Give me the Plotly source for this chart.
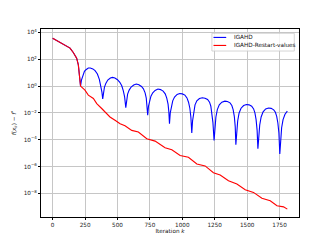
import numpy as np
import plotly.graph_objects as go

# ---------------- data ----------------
# IGAHD-Restart-values: iteration k and log10(f(x_k) - f*)
restart_k = [0, 56, 95, 134, 159, 185, 198, 208, 215,
             249, 275, 314, 340, 378, 404, 442, 481, 520, 558, 610, 661,
             726, 790, 867, 919, 983, 1047, 1112, 1176, 1240, 1292, 1356,
             1421, 1485, 1549, 1614, 1678, 1730, 1781, 1810]
restart_log10 = [3.57, 3.28, 3.08, 2.83, 2.50, 2.08, 1.58, 0.83, 0.0,
                 -0.30, -0.67, -0.92, -1.30, -1.67, -1.92, -2.30, -2.55, -2.80, -2.95, -3.30, -3.42,
                 -3.92, -4.10, -4.60, -4.75, -5.17, -5.30, -5.80, -5.95, -6.45, -6.62, -7.05,
                 -7.30, -7.72, -7.92, -8.35, -8.55, -8.92, -9.00, -9.17]

# IGAHD: iteration k and log10(f(x_k) - f*)
igahd_k = [0, 56, 95, 134, 159, 185, 198, 208, 215,
           222, 232, 245, 257, 275, 290, 310, 327, 345, 360, 372, 380, 386,
           392, 399, 410, 425, 445, 462, 480, 500, 518, 533, 545, 555, 564,
           570, 578, 590, 605, 625, 645, 665, 685, 700, 713, 722, 728, 733,
           739, 747, 758, 772, 790, 812, 832, 852, 868, 880, 890, 896, 901,
           907, 915, 926, 940, 960, 980, 1000, 1020, 1036, 1048, 1058, 1066, 1073,
           1079, 1087, 1098, 1112, 1132, 1155, 1175, 1195, 1210, 1220, 1229, 1236, 1245,
           1251, 1259, 1270, 1285, 1305, 1328, 1348, 1368, 1382, 1392, 1401, 1408, 1413,
           1419, 1427, 1438, 1453, 1473, 1495, 1515, 1535, 1550, 1560, 1569, 1577, 1583,
           1589, 1597, 1608, 1623, 1643, 1665, 1685, 1705, 1718, 1728, 1737, 1745, 1752,
           1758, 1766, 1777, 1792, 1810]
igahd_log10 = [3.57, 3.28, 3.08, 2.83, 2.50, 2.08, 1.58, 0.83, 0.0,
               0.45, 0.83, 1.10, 1.22, 1.35, 1.35, 1.28, 1.15, 0.90, 0.50, 0.0, -0.45, -0.95,
               -0.45, -0.10, 0.20, 0.45, 0.60, 0.65, 0.60, 0.48, 0.28, 0.02, -0.35, -0.80, -1.60,
               -0.95, -0.60, -0.30, -0.07, 0.08, 0.15, 0.10, -0.03, -0.20, -0.50, -0.90, -1.40, -2.17,
               -1.50, -1.10, -0.75, -0.50, -0.32, -0.22, -0.26, -0.37, -0.58, -0.90, -1.35, -1.90, -2.80,
               -2.00, -1.50, -1.10, -0.82, -0.62, -0.55, -0.58, -0.67, -0.88, -1.20, -1.65, -2.30, -3.50,
               -2.60, -1.90, -1.40, -1.10, -0.93, -0.87, -0.90, -1.00, -1.20, -1.50, -2.00, -2.70, -4.05,
               -3.00, -2.30, -1.75, -1.40, -1.20, -1.12, -1.15, -1.25, -1.45, -1.75, -2.25, -3.00, -4.37,
               -3.30, -2.60, -2.00, -1.65, -1.45, -1.37, -1.40, -1.50, -1.70, -2.00, -2.50, -3.30, -4.67,
               -3.60, -2.90, -2.30, -1.92, -1.70, -1.63, -1.66, -1.77, -1.95, -2.25, -2.75, -3.50, -5.05,
               -3.90, -3.10, -2.50, -2.10, -1.87]

series_names = ["IGAHD", "IGAHD-Restart-values"]
series_colors = ["#0000ff", "#ff0000"]

x_ticks = [0, 250, 500, 750, 1000, 1250, 1500, 1750]
y_tick_exp = [4, 2, 0, -2, -4, -6, -8]
y_tick_labels = ["10<sup>%s</sup>" % (str(e).replace("-", "\u2212")) for e in y_tick_exp]

FONT = "DejaVu Sans"
FS = 5.7

fig = go.Figure()
fig.add_trace(go.Scatter(x=igahd_k, y=10.0 ** np.array(igahd_log10), mode="lines",
                         name=series_names[0], line=dict(color=series_colors[0], width=1.1)))
fig.add_trace(go.Scatter(x=restart_k, y=10.0 ** np.array(restart_log10), mode="lines",
                         name=series_names[1], line=dict(color=series_colors[1], width=1.1)))

axis_common = dict(showline=True, linecolor="black", linewidth=1, mirror=True,
                   ticks="outside", ticklen=2, tickwidth=0.8, tickcolor="black",
                   showgrid=True, gridcolor="#c6c6c6", gridwidth=0.8, zeroline=False,
                   automargin=False,
                   tickfont=dict(family=FONT, size=FS, color="#222222"))

fig.update_xaxes(range=[-90, 1900], tickvals=x_ticks,
                 title=dict(text="Iteration <i>k</i>", font=dict(family=FONT, size=FS, color="#111111"),
                            standoff=1),
                 **axis_common)
fig.update_yaxes(type="log", range=[-9.755, 4.255],
                 tickvals=[10.0 ** e for e in y_tick_exp], ticktext=y_tick_labels,
                 title=dict(text="<i>f</i>(<i>x</i><sub><i>k</i></sub>) \u2212 <i>f</i><sup>*</sup>",
                            font=dict(family=FONT, size=FS, color="#111111"), standoff=6),
                 **axis_common)

# legend box drawn in the matplotlib style (paper coordinates of the plot area)
box_x0, box_x1, box_y0, box_y1 = 0.6624, 0.9818, 0.8828, 0.9771
fig.add_shape(type="rect", xref="paper", yref="paper", x0=box_x0, x1=box_x1, y0=box_y0, y1=box_y1,
              line=dict(color="#cccccc", width=0.8), fillcolor="rgba(255,255,255,0.8)", layer="above")
entry_y = [0.9552, 0.9126]
for name, color, yy in zip(series_names, series_colors, entry_y):
    fig.add_shape(type="line", xref="paper", yref="paper", x0=0.6686, x1=0.7179, y0=yy, y1=yy,
                  line=dict(color=color, width=1.1), layer="above")
    fig.add_annotation(xref="paper", yref="paper", x=0.7396, y=yy, text=name, showarrow=False,
                       xanchor="left", yanchor="middle", align="left",
                       font=dict(family=FONT, size=FS, color="#111111"))

fig.update_layout(
    template="none",
    width=332, height=249,
    margin=dict(l=41, r=33, t=29, b=32, pad=0),
    paper_bgcolor="white", plot_bgcolor="white",
    font=dict(family=FONT, size=FS, color="#111111"),
    showlegend=False,
)

fig.write_html("out.html", config={"displayModeBar": False},
               post_script="document.body.style.margin='0';document.body.style.padding='0';")
